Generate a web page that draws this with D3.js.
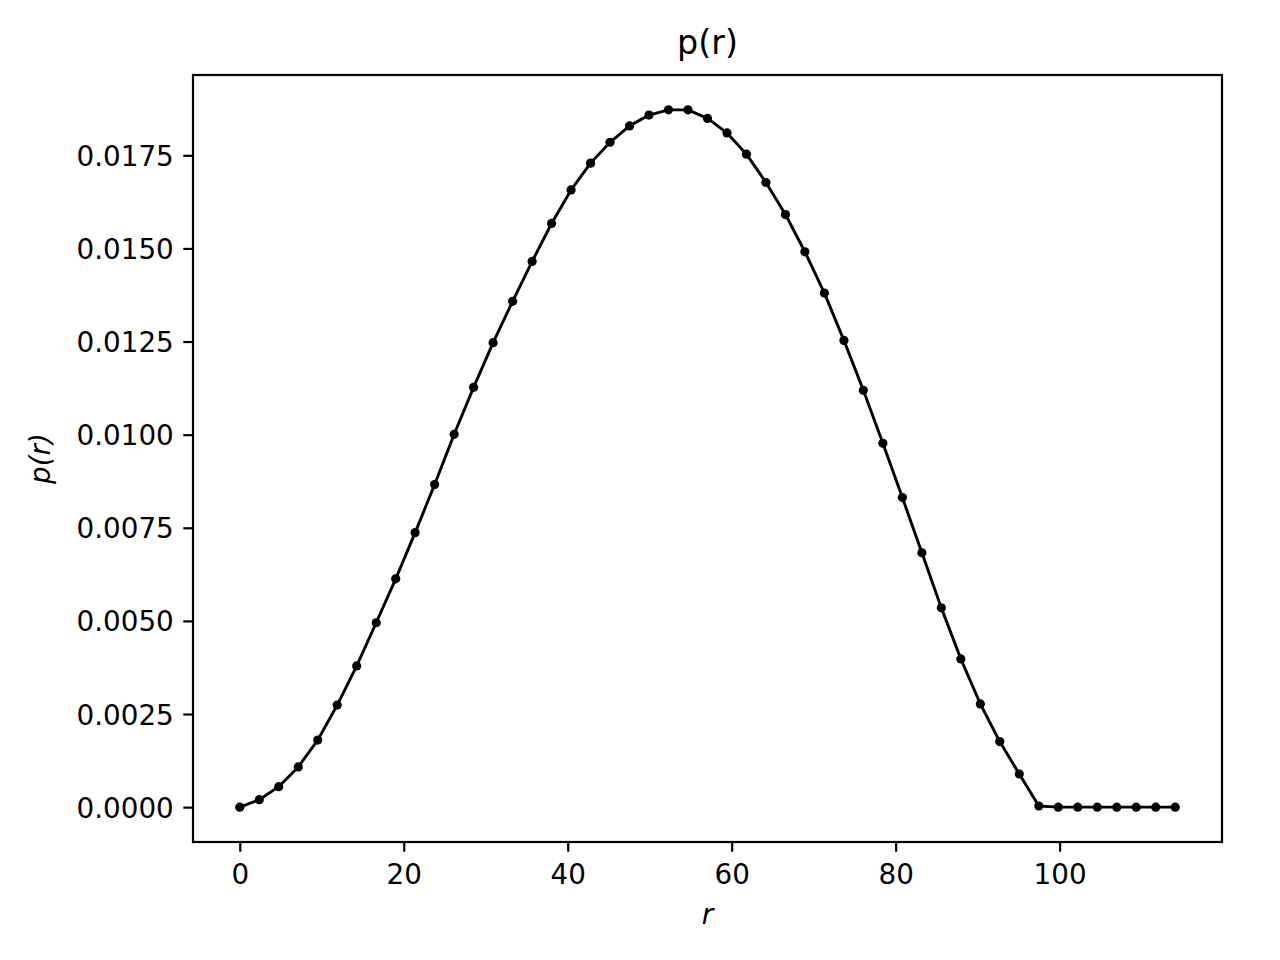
<!DOCTYPE html>
<html>
<head>
<meta charset="utf-8">
<script src="https://cdn.jsdelivr.net/npm/d3@7"></script>
<style>
  html, body { margin: 0; padding: 0; background: #fff; }
  svg { display: block; }
  text { font-family: "DejaVu Sans", sans-serif; fill: #000; }
</style>
</head>
<body>
<svg id="chart" width="1280" height="960"></svg>
<script>
const rValues = [0, 2.38, 4.75, 7.13, 9.51, 11.89, 14.26, 16.64, 19.02, 21.39,
  23.77, 26.15, 28.52, 30.90, 33.28, 35.66, 38.03, 40.41, 42.79, 45.16,
  47.54, 49.92, 52.29, 54.67, 57.05, 59.43, 61.80, 64.18, 66.56, 68.93,
  71.31, 73.69, 76.06, 78.44, 80.82, 83.20, 85.57, 87.95, 90.33, 92.70,
  95.08, 97.46, 99.83, 102.21, 104.59, 106.97, 109.34, 111.72, 114.10];
const pValues = [0, 0.00020, 0.00055, 0.00108, 0.00180, 0.00274, 0.00379, 0.00495, 0.00613, 0.00737,
  0.00866, 0.01001, 0.01127, 0.01247, 0.01358, 0.01465, 0.01567, 0.01657, 0.01729, 0.01785,
  0.01829, 0.01858, 0.01872, 0.01872, 0.01849, 0.01810, 0.01753, 0.01677, 0.01591, 0.01491,
  0.01380, 0.01253, 0.01119, 0.00977, 0.00831, 0.00683, 0.00535, 0.00398, 0.00277, 0.00176,
  0.00089, 0.00003, 0, 0, 0, 0, 0, 0, 0];
const xTicks = [0, 20, 40, 60, 80, 100];
const yTicks = [0, 0.0025, 0.005, 0.0075, 0.01, 0.0125, 0.015, 0.0175];
const titleText = "p(r)";
const xLabel = "r";
const yLabel = "p(r)";

const box = {left: 193, right: 1222, top: 75, bottom: 842};
const fs = 27.8;

const xMin = d3.min(rValues), xMax = d3.max(rValues);
const yMin = d3.min(pValues), yMax = d3.max(pValues);
const xm = (xMax - xMin) * 0.05, ym = (yMax - yMin) * 0.05;

const x = d3.scaleLinear().domain([xMin - xm, xMax + xm]).range([box.left, box.right]);
const y = d3.scaleLinear().domain([yMin - ym, yMax + ym]).range([box.bottom, box.top]);

const svg = d3.select("#chart");
const data = rValues.map((r, i) => ({r, p: pValues[i]}));

// line
svg.append("path")
  .datum(data)
  .attr("fill", "none")
  .attr("stroke", "#000")
  .attr("stroke-width", 2.9)
  .attr("stroke-linejoin", "round")
  .attr("stroke-linecap", "square")
  .attr("d", d3.line().x(d => x(d.r)).y(d => y(d.p)));

// markers
svg.append("g").selectAll("circle")
  .data(data).join("circle")
  .attr("cx", d => x(d.r))
  .attr("cy", d => y(d.p))
  .attr("r", 4.6)
  .attr("fill", "#000");

// axes
const xAxis = d3.axisBottom(x).tickValues(xTicks).tickFormat(d3.format("d"))
  .tickSizeInner(9.7).tickSizeOuter(0).tickPadding(6);
const yAxis = d3.axisLeft(y).tickValues(yTicks).tickFormat(d3.format(".4f"))
  .tickSizeInner(9.7).tickSizeOuter(0).tickPadding(9.5);

const gx = svg.append("g").attr("transform", `translate(0,${box.bottom})`).call(xAxis);
const gy = svg.append("g").attr("transform", `translate(${box.left},0)`).call(yAxis);
[gx, gy].forEach(g => {
  g.select(".domain").remove();
  g.selectAll(".tick line").attr("stroke", "#000").attr("stroke-width", 2.2);
  g.selectAll(".tick text").attr("font-size", fs).attr("font-family", "DejaVu Sans").attr("fill", "#000");
});
gx.selectAll(".tick text").attr("dy", null).attr("y", 42).attr("dominant-baseline", "auto");
gy.selectAll(".tick text").attr("dy", null).attr("y", 10).attr("dominant-baseline", "auto");

// frame
svg.append("rect")
  .attr("x", box.left).attr("y", box.top)
  .attr("width", box.right - box.left).attr("height", box.bottom - box.top)
  .attr("fill", "none").attr("stroke", "#000").attr("stroke-width", 2.2);

// title
svg.append("text")
  .attr("x", (box.left + box.right) / 2).attr("y", 54)
  .attr("text-anchor", "middle").attr("font-size", 33.3)
  .text(titleText);

// x label
svg.append("text")
  .attr("x", (box.left + box.right) / 2).attr("y", 924)
  .attr("text-anchor", "middle").attr("font-size", fs).attr("font-style", "italic")
  .text(xLabel);

// y label
svg.append("text")
  .attr("transform", `translate(50,${(box.top + box.bottom) / 2}) rotate(-90)`)
  .attr("text-anchor", "middle").attr("font-size", fs).attr("font-style", "italic")
  .text(yLabel);
</script>
</body>
</html>
